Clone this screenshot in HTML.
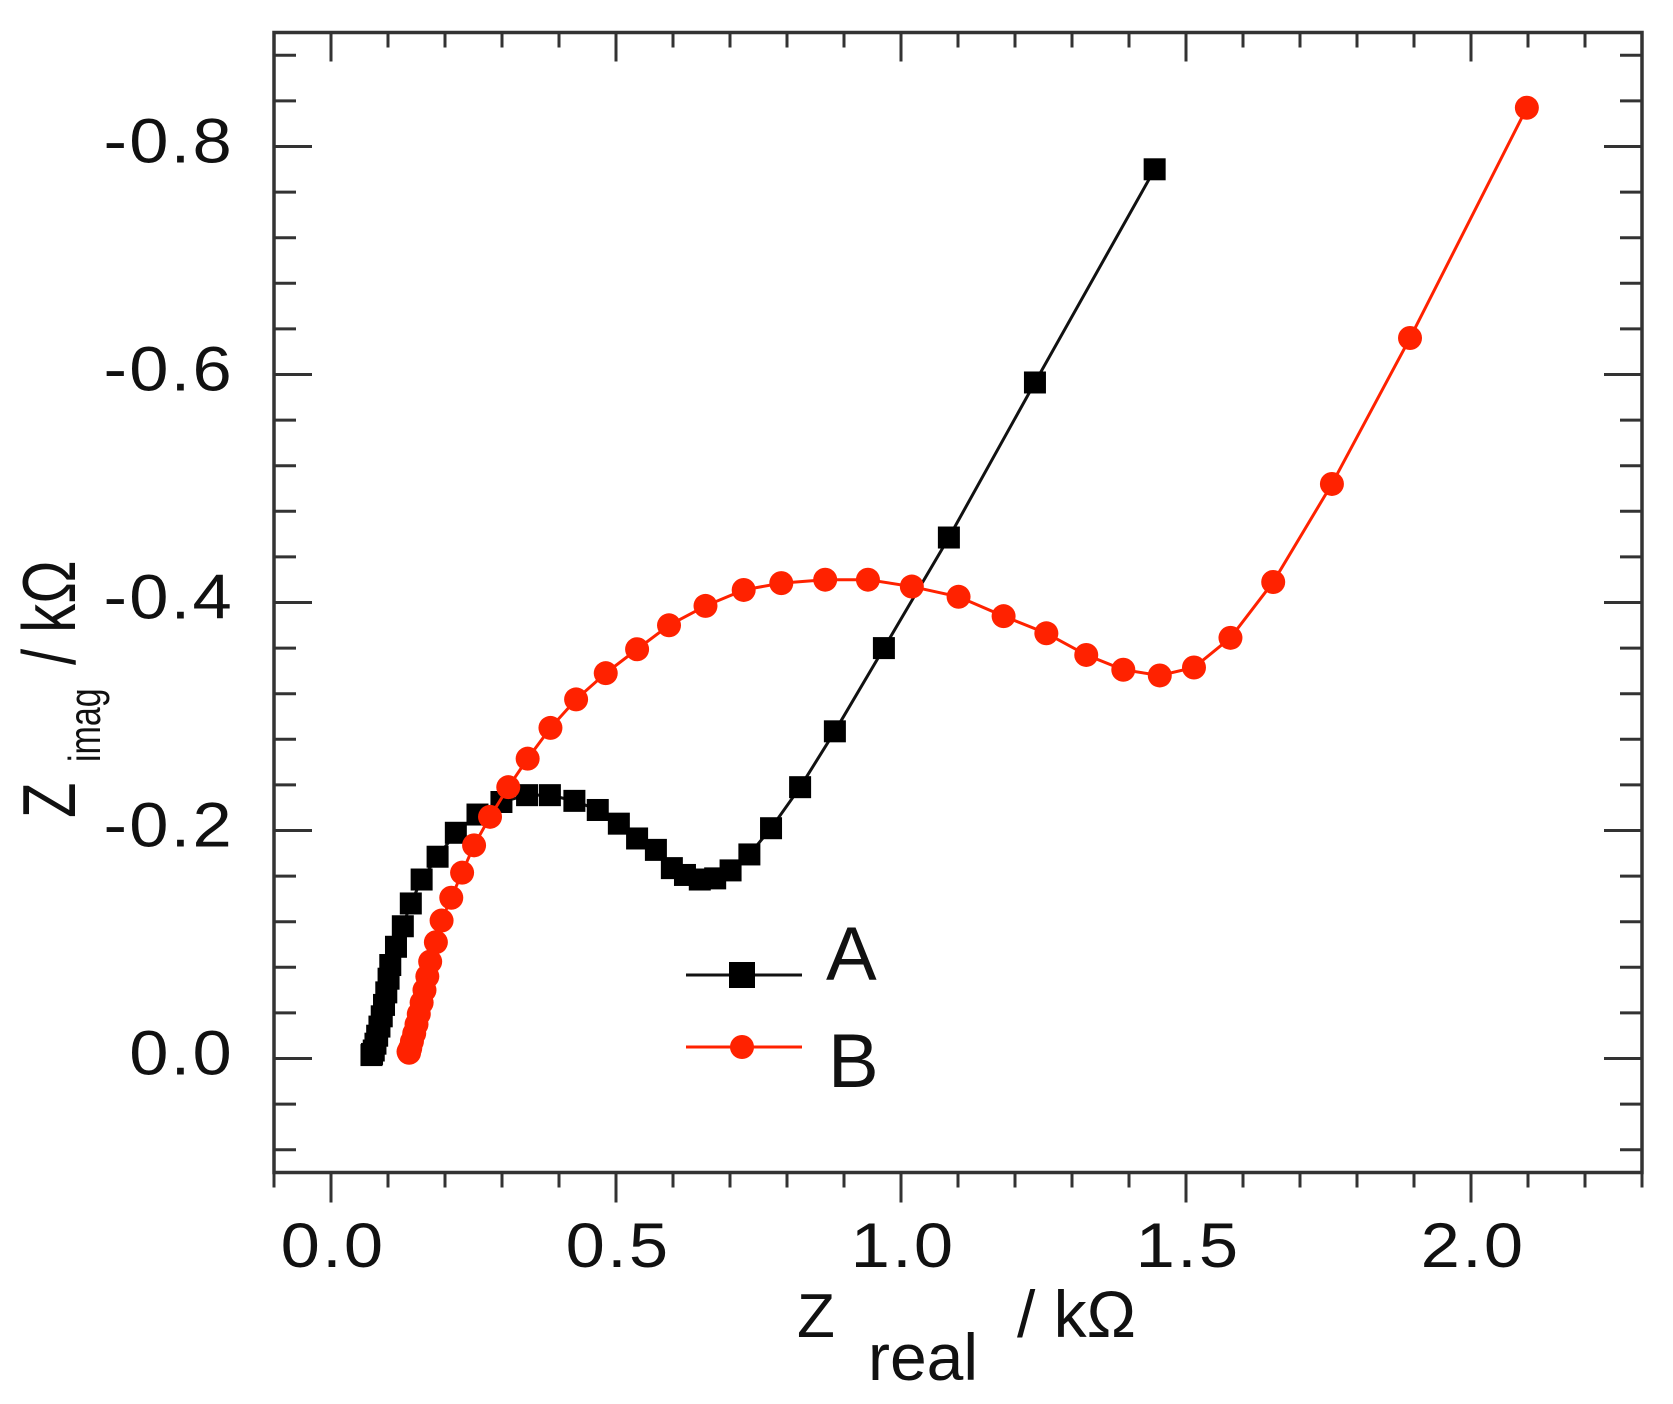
<!DOCTYPE html>
<html><head><meta charset="utf-8"><style>
html,body{margin:0;padding:0;background:#fff;}
svg{display:block;}
text{font-family:"Liberation Sans",Arial,sans-serif;fill:#111;}
</style></head>
<body>
<svg id="chart" width="1673" height="1404" viewBox="0 0 1673 1404" xmlns="http://www.w3.org/2000/svg">
<g id="axes"></g>
<g id="series"></g>
<g>
  <line x1="686" y1="975" x2="802" y2="975" stroke="#111" stroke-width="3"/>
  <rect x="729" y="962" width="26" height="26" fill="#000"/>
  <text x="826" y="980" font-size="76" style="font-family:'Liberation Sans Narrow','Liberation Sans',sans-serif">A</text>
  <line x1="686" y1="1047" x2="802" y2="1047" stroke="#ff2200" stroke-width="3"/>
  <circle cx="742" cy="1047" r="12" fill="#ff2200"/>
  <text x="828" y="1087" font-size="76" style="font-family:'Liberation Sans Narrow','Liberation Sans',sans-serif">B</text>
</g>
<g>
  <text x="797" y="1337" font-size="62">Z</text>
  <text x="868" y="1380" font-size="66">real</text>
  <text x="1017" y="1337" font-size="66">/ kΩ</text>
</g>
<g>
  <g transform="translate(75,818) rotate(-90) scale(1,1.3)"><text x="0" y="0" font-size="58">Z</text></g>
  <g transform="translate(100,762) rotate(-90) scale(1,1.3)"><text x="0" y="0" font-size="34">imag</text></g>
  <g transform="translate(75,665) rotate(-90) scale(1,1.3)"><text x="0" y="0" font-size="58">/ kΩ</text></g>
</g>
</svg>
<script>
const xsA = [1.445,1.235,1.084,0.970,0.884,0.823,0.772,0.734,0.701,0.674,0.647,0.621,0.598,0.570,0.537,0.505,0.468,0.427,0.384,0.344,0.299,0.257,0.219,0.187,0.159,0.140,0.126,0.114,0.104,0.101,0.097,0.093,0.089,0.085,0.081,0.078,0.075,0.072,0.071];
const ysA = [0.780,0.593,0.457,0.360,0.287,0.238,0.202,0.179,0.165,0.158,0.157,0.161,0.167,0.183,0.193,0.206,0.218,0.226,0.231,0.231,0.225,0.214,0.198,0.177,0.157,0.136,0.116,0.098,0.082,0.070,0.058,0.047,0.037,0.028,0.020,0.013,0.007,0.004,0.003];
const xsB = [2.098,1.893,1.756,1.653,1.578,1.514,1.454,1.390,1.325,1.255,1.180,1.101,1.019,0.942,0.867,0.790,0.724,0.657,0.593,0.537,0.482,0.430,0.385,0.345,0.311,0.279,0.251,0.230,0.211,0.194,0.184,0.174,0.169,0.164,0.159,0.154,0.150,0.146,0.142,0.139,0.137,0.136];
const ysB = [0.834,0.632,0.504,0.418,0.369,0.343,0.336,0.341,0.354,0.373,0.388,0.405,0.414,0.420,0.420,0.417,0.411,0.397,0.380,0.359,0.338,0.315,0.290,0.263,0.238,0.212,0.187,0.163,0.141,0.121,0.102,0.085,0.072,0.060,0.049,0.039,0.030,0.022,0.015,0.009,0.005,0.006];
const xTickLabels = ["0.0","0.5","1.0","1.5","2.0"];
const yTickLabels = ["0.0","-0.2","-0.4","-0.6","-0.8"];

const NS="http://www.w3.org/2000/svg";
const X0=331, XS=570, Y0=1058.5, YS=1140;
function sx(v){return X0+v*XS;}
function sy(v){return Y0-v*YS;}
const L=sx(-0.1), R=sx(2.3), T=sy(0.9), B=sy(-0.1);
function mk(tag,attrs,parent){const e=document.createElementNS(NS,tag);for(const k in attrs)e.setAttribute(k,attrs[k]);parent.appendChild(e);return e;}
const axes=document.getElementById('axes');
const AX="#333";
for(let i=-1;i<=23;i++){
  const v=i/10, x=sx(v), major=(i%5===0);
  const t1=mk('line',{x1:x,y1:B,x2:x,y2:B+(major?30:15),stroke:AX,'stroke-width':3},axes);
  
  
  if(i>-1&&i<23){
    const t2=mk('line',{x1:x,y1:T,x2:x,y2:T+(major?29:15),stroke:AX,'stroke-width':3},axes);
    
    
  }
}
for(let i=-2;i<=22;i++){
  const v=i*0.04, y=sy(v), major=(i%5===0);
  const t1=mk('line',{x1:L,y1:y,x2:L+(major?38:22),y2:y,stroke:AX,'stroke-width':3},axes);
  
  
  const t2=mk('line',{x1:R,y1:y,x2:R-(major?38:22),y2:y,stroke:AX,'stroke-width':3},axes);
  
  
}
const frame=mk('rect',{x:L,y:T,width:R-L,height:B-T,fill:'none',stroke:AX,'stroke-width':3.5},axes);


xTickLabels.forEach((s,i)=>{
  const g=mk('g',{transform:'translate('+(sx(i*0.5)+2)+',1267) scale(1.12,1)'},axes);
  const t=mk('text',{x:0,y:0,'font-size':63,'text-anchor':'middle','letter-spacing':2},g);
  t.textContent=s;
  
  
});
yTickLabels.forEach((s,i)=>{
  const g=mk('g',{transform:'translate(234,'+(sy(i*0.2)+16)+') scale(1.12,1)'},axes);
  const t=mk('text',{x:0,y:0,'font-size':63,'text-anchor':'end','letter-spacing':2},g);
  t.textContent=s;
  
  
});
const ser=document.getElementById('series');
function pts(xs,ys){return xs.map((v,i)=>sx(v)+','+sy(ys[i])).join(' ');}
const gA=mk('g',{},ser);


const lA=mk('polyline',{points:pts(xsA,ysA),fill:'none',stroke:'#111','stroke-width':3},gA);


xsA.forEach((v,i)=>{
  const r=mk('rect',{x:sx(v)-11,y:sy(ysA[i])-11,width:22,height:22,fill:'#000'},gA);
  
  
});
const gB=mk('g',{},ser);


const lB=mk('polyline',{points:pts(xsB,ysB),fill:'none',stroke:'#ff2200','stroke-width':3},gB);


xsB.forEach((v,i)=>{
  const c=mk('circle',{cx:sx(v),cy:sy(ysB[i]),r:12,fill:'#ff2200'},gB);
  
  
});
</script>
</body></html>
